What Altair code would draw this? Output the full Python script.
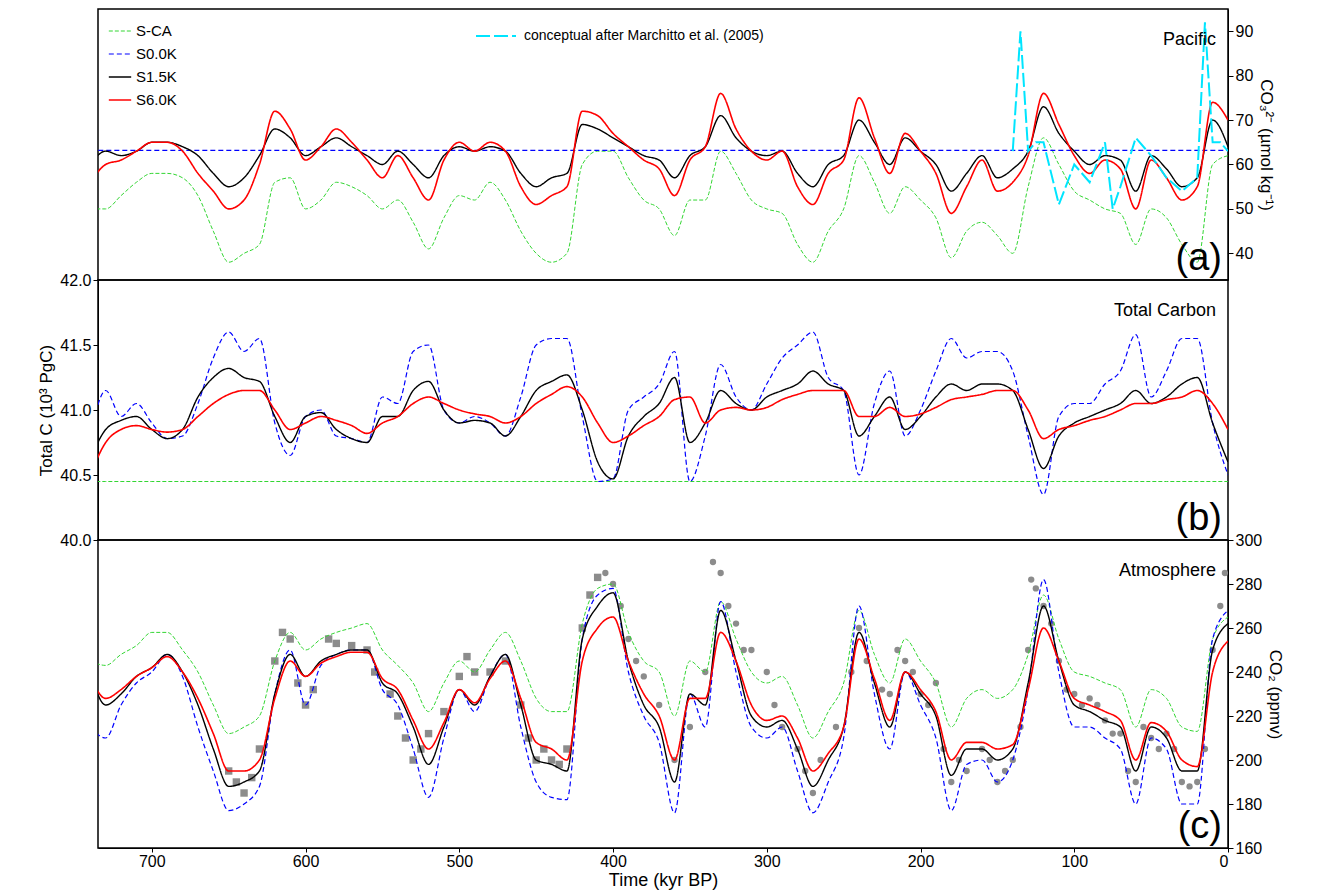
import altair as alt
import pandas as pd

T = list(range(740, -1, -10))
SERIES = ["S-CA", "S0.0K", "S1.5K", "S6.0K"]
COLORS = ["#33d633", "#0000ff", "#000000", "#ff0000"]
DASHES = [[4, 2], [5, 3], [1, 0], [1, 0]]
WIDTHS = [1, 1.6, 2.2, 1]

# panel (a) carbonate ion, 740 -> 0 kyr BP
a_sca = [50, 50, 53, 56, 58, 58, 57, 53, 45, 38, 40, 42, 56, 57, 50, 52, 56, 55, 53, 50, 52, 47, 41, 48, 53, 52, 56, 52, 45, 40, 38, 40, 60, 63, 63, 57, 52, 50, 44, 52, 52, 63, 58, 52, 50, 49, 42, 38, 45, 50, 62, 56, 49, 55, 52, 48, 39, 45, 47, 44, 40, 55, 66, 60, 54, 52, 50, 49, 42, 50, 48, 42, 38, 60, 62]
a_s00 = [63.2] * 75
a_s15 = [60, 63, 62, 63, 65, 65, 64, 62, 58, 55, 57, 62, 68, 66, 62, 64, 66, 64, 62, 60, 63, 60, 57, 62, 64, 63, 64, 63, 58, 55, 57, 58, 69, 68, 66, 64, 62, 61, 57, 62, 64, 71, 66, 63, 62, 63, 58, 55, 60, 62, 70, 65, 60, 66, 63, 60, 54, 58, 62, 57, 59, 63, 73, 67, 63, 60, 62, 61, 54, 62, 59, 55, 57, 70, 64]
a_s60 = [56, 60, 61, 63, 65, 65, 63, 58, 54, 50, 52, 60, 72, 68, 61, 64, 68, 65, 61, 57, 62, 57, 52, 61, 65, 63, 65, 63, 55, 51, 53, 55, 72, 71, 67, 64, 61, 59, 53, 61, 64, 76, 68, 63, 61, 63, 55, 51, 58, 61, 75, 66, 58, 67, 63, 58, 49, 55, 61, 54, 56, 62, 76, 69, 62, 58, 61, 59, 50, 61, 57, 52, 55, 74, 70]
cyan_t = [140, 135, 130, 125, 120, 110, 100, 90, 80, 75, 70, 60, 50, 40, 30, 20, 15, 10, 5, 0]
cyan_v = [63, 90, 63, 65, 65, 51, 60, 56, 65, 50, 55, 66, 62, 57, 54, 57, 92, 65, 65, 63]

# panel (b) total carbon
b_sca = [40.45] * 75
b_s00 = [40.8, 41.15, 40.95, 41.05, 40.9, 40.78, 40.8, 41.05, 41.4, 41.6, 41.45, 41.55, 40.9, 40.65, 40.95, 41.0, 40.8, 40.78, 40.75, 41.1, 41.05, 41.45, 41.5, 41.0, 40.9, 40.95, 40.9, 40.8, 41.1, 41.5, 41.55, 41.55, 40.95, 40.45, 40.47, 41.0, 41.1, 41.2, 41.45, 40.45, 40.8, 41.35, 41.1, 41.0, 41.2, 41.4, 41.5, 41.6, 41.25, 41.15, 40.5, 41.05, 41.3, 40.8, 41.0, 41.3, 41.55, 41.4, 41.45, 41.45, 41.3, 40.8, 40.35, 40.95, 41.05, 41.05, 41.2, 41.3, 41.58, 41.1, 41.3, 41.55, 41.55, 40.9, 40.5]
b_s15 = [40.62, 40.85, 40.92, 40.95, 40.85, 40.78, 40.85, 41.1, 41.25, 41.32, 41.25, 41.22, 40.95, 40.75, 40.95, 40.98, 40.85, 40.78, 40.75, 40.95, 40.95, 41.15, 41.22, 41.0, 40.9, 40.92, 40.9, 40.8, 40.95, 41.15, 41.22, 41.27, 41.0, 40.6, 40.47, 40.8, 40.95, 41.05, 41.25, 40.75, 40.9, 41.15, 41.05, 41.0, 41.1, 41.15, 41.2, 41.3, 41.2, 41.15, 40.8, 40.95, 41.1, 40.85, 40.95, 41.1, 41.2, 41.15, 41.2, 41.2, 41.15, 40.85, 40.55, 40.8, 40.9, 40.95, 41.0, 41.05, 41.15, 41.05, 41.1, 41.2, 41.25, 40.9, 40.6]
b_s60 = [40.5, 40.75, 40.85, 40.88, 40.85, 40.83, 40.85, 40.95, 41.05, 41.12, 41.15, 41.15, 41.0, 40.85, 40.9, 40.95, 40.92, 40.88, 40.82, 40.9, 40.95, 41.05, 41.1, 41.05, 41.0, 40.97, 40.95, 40.9, 40.95, 41.05, 41.12, 41.18, 41.1, 40.9, 40.75, 40.8, 40.88, 40.95, 41.08, 41.1, 40.9, 41.0, 41.02, 41.0, 41.02, 41.08, 41.12, 41.15, 41.15, 41.15, 40.95, 40.95, 41.02, 40.95, 40.97, 41.02, 41.08, 41.1, 41.12, 41.15, 41.15, 41.0, 40.78, 40.85, 40.88, 40.92, 40.95, 41.0, 41.05, 41.05, 41.08, 41.1, 41.15, 41.05, 40.85]

# panel (c) atmospheric CO2
c_sca = [245, 243, 248, 252, 258, 258, 250, 240, 225, 212, 215, 220, 245, 258, 250, 255, 258, 260, 262, 250, 243, 235, 222, 235, 245, 240, 250, 258, 245, 228, 222, 222, 262, 278, 280, 258, 245, 240, 220, 245, 240, 272, 255, 240, 235, 238, 225, 210, 222, 235, 268, 248, 235, 255, 245, 235, 215, 228, 232, 228, 232, 248, 275, 255, 240, 238, 235, 232, 215, 232, 228, 215, 213, 255, 265]
c_s00 = [215, 210, 225, 235, 240, 248, 238, 215, 195, 177, 180, 188, 230, 250, 225, 243, 248, 250, 250, 232, 225, 205, 183, 210, 232, 222, 238, 248, 215, 190, 183, 182, 255, 275, 278, 240, 220, 208, 176, 230, 215, 272, 240, 215, 210, 215, 195, 176, 190, 210, 270, 230, 205, 240, 225, 210, 177, 198, 200, 190, 200, 232, 282, 240, 215, 215, 210, 205, 180, 210, 205, 180, 180, 255, 268]
c_s15 = [240, 225, 230, 238, 242, 248, 240, 225, 205, 188, 190, 195, 230, 248, 238, 245, 248, 250, 250, 235, 230, 215, 198, 215, 232, 225, 238, 248, 225, 200, 198, 195, 255, 270, 276, 245, 225, 215, 190, 230, 225, 268, 245, 220, 215, 218, 205, 188, 200, 215, 258, 235, 215, 240, 230, 220, 193, 205, 205, 200, 205, 235, 270, 245, 225, 222, 218, 215, 195, 215, 210, 195, 195, 250, 262]
c_s60 = [238, 228, 232, 238, 242, 247, 240, 228, 212, 195, 195, 200, 228, 245, 238, 244, 247, 249, 249, 237, 232, 218, 205, 217, 232, 226, 237, 245, 228, 208, 205, 200, 245, 260, 265, 245, 230, 220, 200, 228, 228, 258, 245, 225, 218, 220, 210, 195, 203, 215, 255, 237, 218, 240, 232, 222, 200, 208, 208, 205, 207, 232, 260, 245, 228, 225, 222, 218, 200, 217, 213, 200, 197, 240, 254]

# ice core data: Dome C (squares), Vostok (circles)
domec_t = [650, 645, 640, 635, 630, 620, 615, 610, 605, 600, 595, 585, 580, 570, 560, 555, 545, 540, 535, 530, 525, 520, 510, 500, 495, 490, 480, 470, 460, 455, 450, 445, 440, 435, 430, 420, 415, 410]
domec_v = [195, 190, 185, 192, 205, 245, 258, 255, 235, 225, 232, 255, 253, 252, 250, 240, 230, 220, 210, 200, 205, 212, 222, 238, 247, 240, 240, 245, 225, 210, 200, 205, 200, 198, 205, 260, 275, 283]
vostok_t = [405, 400, 395, 390, 385, 380, 370, 360, 350, 340, 335, 330, 325, 320, 315, 310, 300, 295, 290, 280, 275, 270, 265, 255, 245, 240, 235, 225, 220, 215, 210, 205, 200, 195, 190, 185, 180, 175, 170, 160, 155, 150, 145, 140, 135, 130, 128, 125, 120, 115, 110, 105, 100, 95, 90, 85, 80, 75, 70, 65, 60, 55, 50, 45, 40, 35, 30, 25, 20, 15, 10, 5, 2]
vostok_v = [285, 280, 270, 255, 245, 238, 225, 200, 215, 240, 290, 285, 270, 262, 250, 250, 240, 225, 215, 205, 195, 185, 200, 215, 240, 260, 245, 232, 230, 250, 245, 240, 230, 225, 235, 205, 190, 200, 195, 205, 200, 190, 195, 200, 215, 250, 282, 278, 270, 262, 245, 232, 230, 225, 228, 225, 218, 212, 212, 195, 190, 215, 210, 205, 212, 205, 190, 188, 190, 205, 250, 270, 285]

W = 1130
FONT = "Liberation Sans"
XSCALE = alt.Scale(domain=[0, 735], reverse=True, nice=False, zero=False)


def long_df(values):
    rows = []
    for name, vals in zip(SERIES, values):
        for t, v in zip(T, vals):
            rows.append({"t": t, "v": v, "series": name})
    return pd.DataFrame(rows)


def lines(df, ydom, yaxis, show_legend=False, xaxis=None):
    legend = None
    if show_legend:
        legend = alt.Legend(title=None, orient="top-left", symbolType="stroke",
                            symbolSize=500, labelFontSize=15, labelFont=FONT,
                            padding=2, offset=8, rowPadding=3)
    return alt.Chart(df).mark_line(interpolate="monotone", clip=True).encode(
        x=alt.X("t:Q", scale=XSCALE, axis=xaxis, title="Time (kyr BP)"),
        y=alt.Y("v:Q", scale=alt.Scale(domain=ydom, nice=False, zero=False), axis=yaxis),
        color=alt.Color("series:N", scale=alt.Scale(domain=SERIES, range=COLORS), legend=legend),
        strokeDash=alt.StrokeDash("series:N", scale=alt.Scale(domain=SERIES, range=DASHES), legend=legend),
        strokeWidth=alt.StrokeWidth("series:N", scale=alt.Scale(domain=SERIES, range=WIDTHS), legend=None),
        order=alt.Order("series:N"),
    )


def label(text, h, big):
    if big:
        return alt.Chart(pd.DataFrame({"s": [text]})).mark_text(
            fontSize=38, font=FONT, align="right", baseline="bottom"
        ).encode(x=alt.value(W - 6), y=alt.value(h - 2), text="s:N")
    return alt.Chart(pd.DataFrame({"s": [text]})).mark_text(
        fontSize=18, font=FONT, align="right", baseline="top"
    ).encode(x=alt.value(W - 12), y=alt.value(22), text="s:N")


# panel a
ha = 271
axis_a = alt.Axis(orient="right", values=[40, 50, 60, 70, 80, 90], title="CO₃²⁻ (µmol kg⁻¹)",
                  grid=False, labelFontSize=16, titleFontSize=17)
cy = pd.DataFrame({"t": cyan_t, "v": cyan_v})
cyan = alt.Chart(cy).mark_line(color="#00e5ff", strokeDash=[14, 4], strokeWidth=2, clip=True).encode(
    x=alt.X("t:Q", scale=XSCALE, axis=None),
    y=alt.Y("v:Q", scale=alt.Scale(domain=[34, 95], nice=False, zero=False), axis=axis_a),
)
cyan_key = alt.Chart(pd.DataFrame({"s": ["conceptual after Marchitto et al. (2005)"]})).mark_rule(
    color="#00e5ff", strokeDash=[14, 4], strokeWidth=2).encode(x=alt.value(378), x2=alt.value(418), y=alt.value(27))
cyan_txt = alt.Chart(pd.DataFrame({"s": ["conceptual after Marchitto et al. (2005)"]})).mark_text(
    align="left", fontSize=14, font=FONT).encode(x=alt.value(426), y=alt.value(27), text="s:N")
pa = alt.layer(
    lines(long_df([a_sca, a_s00, a_s15, a_s60]), [34, 95], axis_a, show_legend=True),
    cyan, cyan_key, cyan_txt, label("Pacific", ha, False), label("(a)", ha, True),
).properties(width=W, height=ha)

# panel b
hb = 260
axis_b = alt.Axis(orient="left", values=[40.0, 40.5, 41.0, 41.5, 42.0], format=".1f",
                  title="Total C (10³ PgC)", grid=False, labelFontSize=16, titleFontSize=17)
pb = alt.layer(
    lines(long_df([b_sca, b_s00, b_s15, b_s60]), [40, 42], axis_b),
    label("Total Carbon", hb, False), label("(b)", hb, True),
).properties(width=W, height=hb)

# panel c
hc = 308
axis_c = alt.Axis(orient="right", values=list(range(160, 301, 20)), title="CO₂ (ppmv)",
                  grid=False, labelFontSize=16, titleFontSize=17)
xaxis_c = alt.Axis(values=list(range(0, 701, 100)), labelFontSize=16, titleFontSize=18, grid=False,
                   tickSize=4, labelPadding=1, titlePadding=2)
cdom = [160, 300]
domec = alt.Chart(pd.DataFrame({"t": domec_t, "v": domec_v})).mark_point(
    shape="square", filled=True, color="#8c8c8c", size=55, opacity=1, clip=True
).encode(x=alt.X("t:Q", scale=XSCALE), y=alt.Y("v:Q", scale=alt.Scale(domain=cdom, nice=False, zero=False)))
vostok = alt.Chart(pd.DataFrame({"t": vostok_t, "v": vostok_v})).mark_circle(
    color="#8c8c8c", size=40, opacity=1, clip=True
).encode(x=alt.X("t:Q", scale=XSCALE), y=alt.Y("v:Q", scale=alt.Scale(domain=cdom, nice=False, zero=False)))
pc = alt.layer(
    domec, vostok,
    lines(long_df([c_sca, c_s00, c_s15, c_s60]), cdom, axis_c, xaxis=xaxis_c),
    label("Atmosphere", hc, False), label("(c)", hc, True),
).properties(width=W, height=hc)

chart = alt.vconcat(pa, pb, pc, spacing=0, bounds="flush").resolve_scale(
    color="independent", strokeDash="independent", strokeWidth="independent", y="independent"
).properties(padding={"left": 29, "right": 5, "top": 0, "bottom": 0}).configure_view(
    stroke="black", strokeWidth=1.5).configure_axis(
    labelFont=FONT, titleFont=FONT, labelColor="black", titleColor="black",
    domainColor="black", tickColor="black", titleFontWeight="normal"
).configure_legend(fillColor="white")

chart.save("out.html", embed_options={"renderer": "svg", "actions": False})
